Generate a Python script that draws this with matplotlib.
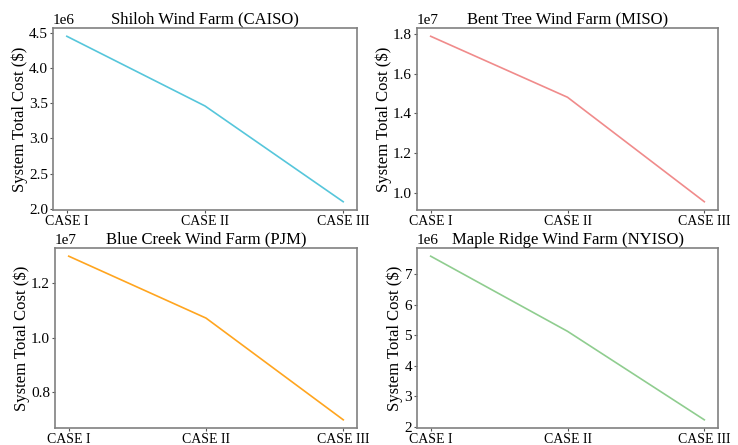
import matplotlib
matplotlib.use("Agg")
import matplotlib.pyplot as plt
from matplotlib.ticker import MultipleLocator

plt.rcParams['font.family'] = ['Liberation Serif', 'DejaVu Serif']

cases = ["CASE I", "CASE II", "CASE III"]
titles = ["Shiloh Wind Farm (CAISO)", "Bent Tree Wind Farm (MISO)",
          "Blue Creek Wind Farm (PJM)", "Maple Ridge Wind Farm (NYISO)"]
shiloh = [4.45e6, 3.46e6, 2.10e6]
bent_tree = [1.788e7, 1.481e7, 0.955e7]
blue_creek = [1.299e7, 1.072e7, 0.699e7]
maple_ridge = [7.60e6, 5.13e6, 2.22e6]
tick_steps = [0.5e6, 0.2e7, 0.2e7, 1e6]
colors = ["#56c6db", "#f08b8b", "#ffa51f", "#8fcd8f"]

series = [shiloh, bent_tree, blue_creek, maple_ridge]

fig = plt.figure(figsize=(7.38, 4.45), dpi=100)
positions = [
    [53/738, 1-210/445, 304/738, 182/445],
    [417/738, 1-210/445, 301/738, 182/445],
    [55/738, 1-428/445, 302/738, 180/445],
    [417/738, 1-428/445, 301/738, 180/445],
]
for pos, title, vals, c, step in zip(positions, titles, series, colors, tick_steps):
    ax = fig.add_axes(pos)
    ax.plot(cases, vals, color=c, linewidth=1.2)
    ax.yaxis.set_major_locator(MultipleLocator(step))
    ax.set_title(title, fontsize=12, pad=3)
    ax.set_ylabel("System Total Cost ($)", fontsize=12, labelpad=1)
    ax.tick_params(axis='both', labelsize=11, length=2.5, pad=1, color='#555555')
    ax.tick_params(axis='x', labelsize=10, pad=1)
    ax.yaxis.get_offset_text().set_fontsize(11)
    for s in ax.spines.values():
        s.set_color('#808080')
        s.set_linewidth(1.2)

fig.savefig("out.png", dpi=100)
